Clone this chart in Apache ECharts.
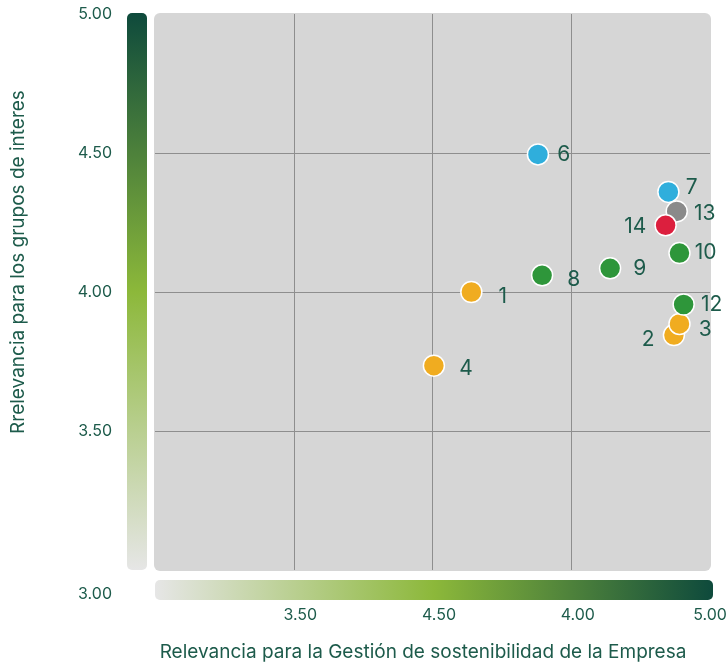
<!DOCTYPE html>
<html>
<head>
<meta charset="utf-8">
<script src="https://cdn.jsdelivr.net/npm/echarts@6/dist/echarts.min.js"></script>
<style>
html,body{margin:0;padding:0;background:#fff;}
#c{width:728px;height:665px;}
</style>
</head>
<body>
<div id="c"></div>
<script>
// ---- data ----
const pointIds = ['1','2','3','4','6','7','8','9','10','12','13','14'];
const xValues  = [4.14, 4.87, 4.89, 4.005, 4.38, 4.85, 4.395, 4.64, 4.89, 4.905, 4.88, 4.84];
const yValues  = [4.00, 3.845, 3.885, 3.735, 4.495, 4.36, 4.06, 4.085, 4.14, 3.955, 4.29, 4.24];
const groups   = ['orange','orange','orange','orange','blue','blue','green','green','green','green','grey','red'];
const xTickLabels = {3.5:'3.50', 4.0:'4.50', 4.5:'4.00', 5.0:'5.00'};
const yTickLabels = {3.5:'3.50', 4.0:'4.00', 4.5:'4.50', 5.0:'5.00'};
const yMinLabel = '3.00';
const xTitle = 'Relevancia para la Gestión de sostenibilidad de la Empresa';
const yTitle = 'Rrelevancia para los grupos de interes';

// ---- styles ----
const groupColors = {orange:'#F0AC20', blue:'#2FAEDC', green:'#2E963A', grey:'#8A8A8A', red:'#DC1F3E'};
const labelStyle = { // [position, dx, dy]
  '1':['right',10,5], '2':['left',-2,5], '3':['right',2,6], '4':['right',8,3],
  '6':['right',2,0], '7':['right',0,-4], '8':['right',8,4], '9':['right',6,0],
  '10':['right',-2,0], '12':['right',0,0], '13':['right',0,2], '14':['left',-2,1]
};
const TXT = '#1D5B4B';
const FONT = 'Inter';

const chart = echarts.init(document.getElementById('c'));
const data = pointIds.map((id,i)=>{
  const ls = labelStyle[id];
  return {
    value:[xValues[i], yValues[i]],
    name:id,
    itemStyle:{color:groupColors[groups[i]]},
    label:{position:ls[0], offset:[ls[1],ls[2]]}
  };
});

chart.setOption({
  animation:false,
  textStyle:{fontFamily:FONT},
  grid:{left:155, right:18, top:14, bottom:95, containLabel:false, outerBoundsMode:'none'},
  xAxis:{
    type:'value', min:3, max:5, interval:0.5,
    axisLine:{show:false}, axisTick:{show:false},
    splitLine:{show:true, showMinLine:false, showMaxLine:false, lineStyle:{color:'#8E8E8E', width:1}},
    axisLabel:{
      margin:37, fontSize:16, color:TXT, fontFamily:FONT, showMinLabel:false,
      formatter:v=>{ const t = xTickLabels[v] || ''; return v===5 ? '{e|'+t+'}' : '{m|'+t+'}'; },
      rich:{
        m:{fontSize:16, color:TXT, fontFamily:FONT, padding:[0,0,0,13]},
        e:{fontSize:16, color:TXT, fontFamily:FONT, padding:[0,0,0,0]}
      }
    }
  },
  yAxis:{
    type:'value', min:3, max:5, interval:0.5,
    axisLine:{show:false}, axisTick:{show:false},
    splitLine:{show:true, showMinLine:false, showMaxLine:false, lineStyle:{color:'#8E8E8E', width:1}},
    axisLabel:{
      margin:43, fontSize:16, color:TXT, fontFamily:FONT, showMinLabel:false,
      padding:[8,0,0,0],
      formatter:v=>yTickLabels[v] || ''
    }
  },
  series:[{
    type:'scatter',
    symbolSize:21,
    itemStyle:{borderColor:'#ffffff', borderWidth:1.5, opacity:1},
    label:{show:true, formatter:p=>p.name, fontSize:21, color:TXT, fontFamily:FONT, distance:6},
    data:data,
    z:5
  }]
});

// decorations from axis extents
const tl = chart.convertToPixel({gridIndex:0},[3,5]);
const br = chart.convertToPixel({gridIndex:0},[5,3]);
const x0=tl[0], y0=tl[1], x1=br[0], y1=br[1];
chart.setOption({
  graphic:[
    {type:'rect', z:-10, silent:true, shape:{x:x0-1, y:y0-1, width:x1-x0+2, height:y1-y0+2, r:6}, style:{fill:'#D6D6D6'}},
    {type:'rect', z:-10, silent:true, shape:{x:x0-28, y:y0-1, width:20, height:y1-y0+1, r:5},
      style:{fill:new echarts.graphic.LinearGradient(0,0,0,1,[
        {offset:0,color:'#0E4A3C'},{offset:0.5,color:'#8CB83A'},{offset:1,color:'#E6E6E6'}])}},
    {type:'rect', z:-10, silent:true, shape:{x:x0, y:y1+10, width:x1-x0+3, height:20, r:5},
      style:{fill:new echarts.graphic.LinearGradient(0,0,1,0,[
        {offset:0,color:'#E6E6E6'},{offset:0.5,color:'#8CB83A'},{offset:1,color:'#0E4A3C'}])}},
    {type:'text', silent:true, x:x0-43, y:y1+24, style:{text:yMinLabel, fill:TXT, font:'16px '+FONT, align:'right', verticalAlign:'middle'}},
    {type:'text', silent:true, x:423, y:y1+82, style:{text:xTitle, fill:TXT, font:'19px '+FONT, align:'center', verticalAlign:'middle'}},
    {type:'text', silent:true, x:18, y:262, rotation:Math.PI/2,
      style:{text:yTitle, fill:TXT, font:'19px '+FONT, align:'center', verticalAlign:'middle'}}
  ]
});
</script>
</body>
</html>
